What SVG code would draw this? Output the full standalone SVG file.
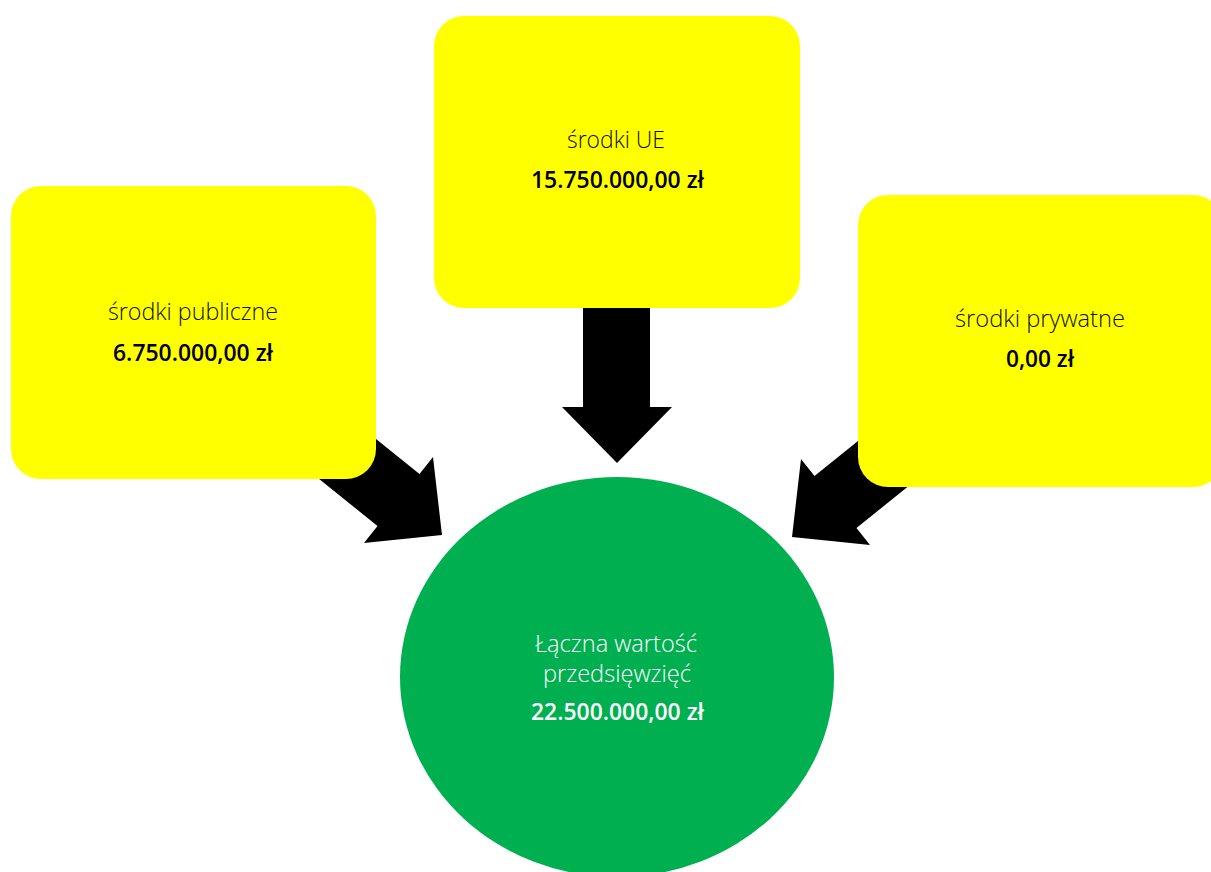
<svg xmlns="http://www.w3.org/2000/svg" width="1211" height="872" viewBox="0 0 1211 872">
  <style>
    .box { fill: #FFFF00; }
    .arrow { fill: #000000; }
    .lbl { font-family: "Open Sans", "Noto Sans", sans-serif; font-weight: 300; font-size: 23.5px; text-anchor: middle; fill: #111111; }
    .val { font-family: "Open Sans", "Noto Sans", sans-serif; font-weight: 600; font-size: 24px; text-anchor: middle; fill: #000000; }
    .white { fill: #FFFFFF; }
  </style>
  <rect width="1211" height="872" fill="#FFFFFF"/>
  <g id="connectors">
    <polygon class="arrow" points="342.5,411.9 419.5,473.9 433,457 442,535 364,543 377.5,526 300.5,464"/>
    <polygon class="arrow" points="583,290 650,290 650,407 672,407 617,463 562,407 583,407"/>
    <polygon class="arrow" points="891.5,413.9 814.5,475.9 801,459 792,537 870,545 856.5,528 933.5,466"/>
  </g>
  <g id="node-public">
    <rect class="box" x="11" y="186" width="365" height="293" rx="30" ry="30"/>
    <text class="lbl" x="193" y="320" textLength="170" lengthAdjust="spacingAndGlyphs">środki publiczne</text>
    <text class="val" x="193" y="361" textLength="160" lengthAdjust="spacingAndGlyphs">6.750.000,00 zł</text>
  </g>
  <g id="node-ue">
    <rect class="box" x="434" y="16" width="366" height="292" rx="30" ry="30"/>
    <text class="lbl" x="616" y="148" textLength="98" lengthAdjust="spacingAndGlyphs">środki UE</text>
    <text class="val" x="617.5" y="188" textLength="173" lengthAdjust="spacingAndGlyphs">15.750.000,00 zł</text>
  </g>
  <g id="node-private">
    <rect class="box" x="858" y="195" width="365" height="292" rx="30" ry="30"/>
    <text class="lbl" x="1040" y="327" textLength="170" lengthAdjust="spacingAndGlyphs">środki prywatne</text>
    <text class="val" x="1040" y="367" textLength="68" lengthAdjust="spacingAndGlyphs">0,00 zł</text>
  </g>
  <g id="node-total">
    <ellipse cx="617" cy="677" rx="217" ry="200" fill="#00B050"/>
    <text class="lbl white" x="616" y="652" textLength="162" lengthAdjust="spacingAndGlyphs">Łączna wartość</text>
    <text class="lbl white" x="617" y="682" textLength="148" lengthAdjust="spacingAndGlyphs">przedsięwzięć</text>
    <text class="val white" x="617.5" y="720" textLength="173" lengthAdjust="spacingAndGlyphs">22.500.000,00 zł</text>
  </g>
</svg>
